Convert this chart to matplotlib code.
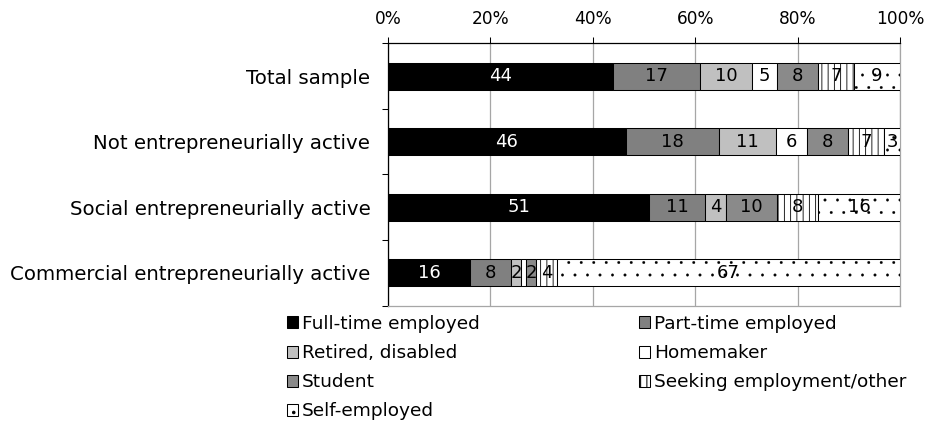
import numpy as np
import matplotlib
matplotlib.use("Agg")
import matplotlib.pyplot as plt
from matplotlib.patches import Patch

# Employment status by entrepreneurial activity (percent of each group)
groups = [
    "Total sample",
    "Not entrepreneurially active",
    "Social entrepreneurially active",
    "Commercial entrepreneurially active",
]
statuses = [
    "Full-time employed",
    "Part-time employed",
    "Retired, disabled",
    "Homemaker",
    "Student",
    "Seeking employment/other",
    "Self-employed",
]
full_time = [44, 46, 51, 16]
part_time = [17, 18, 11, 8]
retired = [10, 11, 4, 2]
homemaker = [5, 6, 0, 1]
student = [8, 8, 10, 2]
seeking = [7, 7, 8, 4]
self_employed = [9, 3, 16, 67]
pct_ticks = [0, 20, 40, 60, 80, 100]

series = [full_time, part_time, retired, homemaker, student, seeking, self_employed]
fills = ["#000000", "#808080", "#c0c0c0", "#ffffff", "#8a8a8a", "#ffffff", "#ffffff"]
hatches = [None, None, None, None, None, "||", "."]
hatch_lw = [0.8, 0.8, 0.8, 0.8, 0.8, 0.8, 0.3]
label_colors = ["white", "black", "black", "black", "black", "black", "black"]

DPI = 75
W, H = 931, 423


def px(n):
    """Font size in points for a height of n pixels."""
    return n * 72 / DPI


plt.rcParams["font.family"] = ["DejaVu Sans"]

fig = plt.figure(figsize=(W / DPI, H / DPI), dpi=DPI)
ax = fig.add_axes([388 / W, 1 - 305.5 / H, 512 / W, (305.5 - 43.3) / H])

data = np.array(series, dtype=float)
shares = data / data.sum(axis=0) * 100
y = np.arange(len(groups))
left = np.zeros(len(groups))
bar_h = 0.41

for i, name in enumerate(statuses):
    with plt.rc_context({"hatch.linewidth": hatch_lw[i]}):
        bars = ax.barh(y, shares[i], left=left, height=bar_h, color=fills[i],
                       edgecolor="black", linewidth=1.0, hatch=hatches[i],
                       label=name, zorder=3)
    for j, b in enumerate(bars):
        v = data[i, j]
        if v >= 2:
            ax.text(left[j] + shares[i, j] / 2, y[j], f"{int(v)}",
                    ha="center", va="center", fontsize=px(18),
                    color=label_colors[i], zorder=4)
    left += shares[i]

ax.set_xlim(0, 100)
ax.set_ylim(len(groups) - 0.5, -0.5)

# percentage scale on top
ax.xaxis.tick_top()
ax.set_xticks(pct_ticks)
ax.set_xticklabels([f"{t}%" for t in pct_ticks], fontsize=px(17))
ax.tick_params(axis="x", direction="out", length=6, width=1, pad=9, color="black")
ax.grid(axis="x", color="#a6a6a6", linewidth=1.2, zorder=0)
ax.set_axisbelow(True)

# category labels with ticks between groups
ax.set_yticks(y)
ax.set_yticklabels(groups, fontsize=px(19.7))
ax.set_yticks(np.arange(-0.5, len(groups)), minor=True)
ax.tick_params(axis="y", which="major", length=0, pad=17)
ax.tick_params(axis="y", which="minor", length=6, width=1, direction="out")

for side in ("top", "left"):
    ax.spines[side].set_color("black")
    ax.spines[side].set_linewidth(1.2)
for side in ("bottom", "right"):
    ax.spines[side].set_color("#a6a6a6")
    ax.spines[side].set_linewidth(1.2)

handles = []
for i in range(len(statuses)):
    with plt.rc_context({"hatch.linewidth": hatch_lw[i]}):
        handles.append(Patch(facecolor=fills[i], edgecolor="black", hatch=hatches[i],
                             linewidth=1.0, label=statuses[i]))
order = [0, 2, 4, 6, 1, 3, 5]
fig.legend([handles[k] for k in order], [statuses[k] for k in order],
           ncol=2, loc="upper left", bbox_to_anchor=(287 / W, 1 - 315 / H),
           frameon=False, fontsize=px(18.5), handlelength=0.62, handleheight=0.62,
           handletextpad=0.2, columnspacing=8.6, labelspacing=0.6,
           borderpad=0, borderaxespad=0)

fig.savefig("out.png", dpi=DPI)
